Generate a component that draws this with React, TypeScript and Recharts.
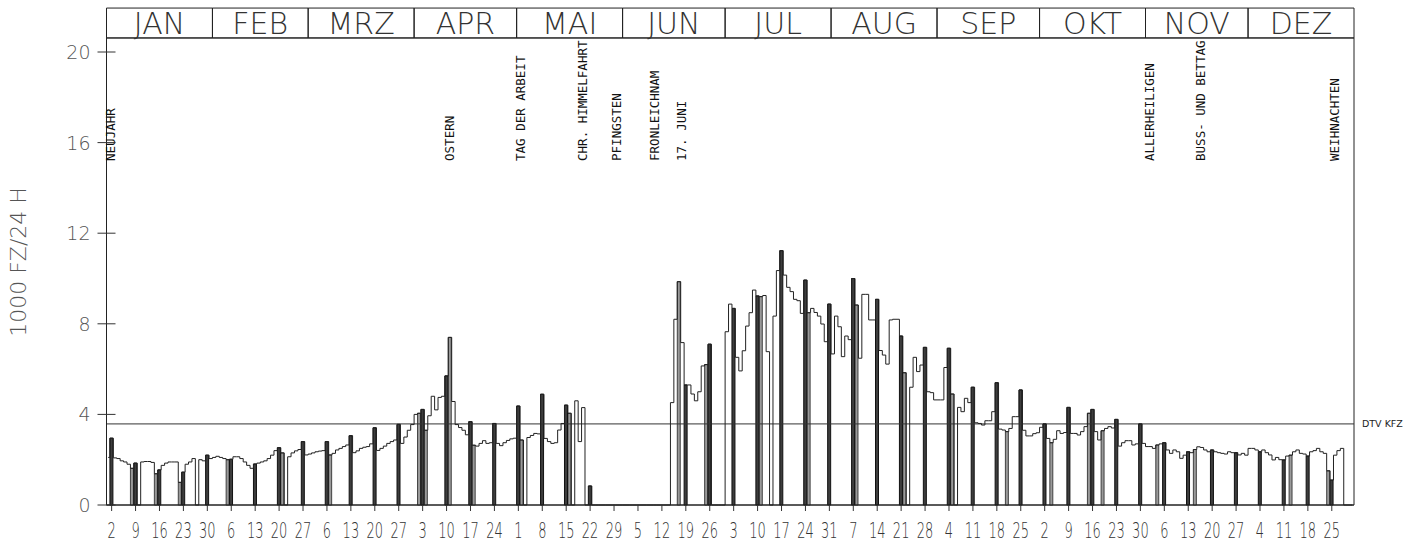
import React from 'react';
import { ComposedChart, Bar, Line, XAxis, YAxis, ReferenceLine, ReferenceArea, ReferenceDot } from 'recharts';

// daily traffic, 1000 vehicles / 24 h (1977, Jan 1 = Saturday)
const monthNames = ['JAN', 'FEB', 'MRZ', 'APR', 'MAI', 'JUN', 'JUL', 'AUG', 'SEP', 'OKT', 'NOV', 'DEZ'];

const jan = [2.1, 2.95, 2.08, 2.05, 1.95, 1.9, 1.8, 1.62, 1.85, 0, 1.9, 1.92, 1.92, 1.88, 1.38, 1.55, 1.75, 1.85, 1.9, 1.9, 1.9, 1.0, 1.45, 1.8, 1.9, 2.05, 0, 2.0, 1.95, 2.2, 2.05];
const feb = [2.1, 2.15, 2.1, 2.05, 2.0, 2.02, 2.13, 2.13, 2.05, 1.9, 1.75, 1.62, 1.81, 1.85, 1.9, 1.95, 2.05, 2.2, 2.4, 2.53, 2.3, 0, 2.13, 2.3, 2.39, 2.45, 2.8, 2.21];
const mar = [2.25, 2.3, 2.35, 2.38, 2.4, 2.8, 2.21, 2.28, 2.43, 2.5, 2.58, 2.65, 3.06, 2.31, 2.39, 2.5, 2.55, 2.58, 2.7, 3.41, 2.41, 2.5, 2.6, 2.72, 2.8, 2.87, 3.56, 2.72, 3.0, 3.3, 3.55];
const apr = [4.0, 4.05, 4.22, 3.3, 3.94, 4.8, 4.2, 4.75, 4.8, 5.7, 7.4, 4.57, 3.55, 3.42, 3.3, 3.1, 3.68, 2.64, 2.6, 2.72, 2.84, 2.72, 2.75, 3.6, 2.72, 2.62, 2.75, 2.85, 2.92, 2.95];
const may = [4.37, 2.87, 0, 2.98, 3.07, 3.16, 3.14, 4.89, 2.94, 2.8, 2.72, 2.75, 3.31, 3.6, 4.41, 4.05, 0, 4.6, 2.8, 4.3, 0, 0.84, 0, 0, 0, 0, 0, 0, 0, 0, 0];
const jun = [0, 0, 0, 0, 0, 0, 0, 0, 0, 0, 0, 0, 0, 0, 4.52, 8.2, 9.86, 7.17, 5.3, 5.3, 4.9, 4.6, 5.0, 6.14, 6.2, 7.1, 0, 0, 0, 0];
const jul = [7.65, 8.87, 8.68, 6.52, 5.92, 6.81, 7.9, 8.49, 9.49, 9.23, 9.2, 9.25, 6.77, 0, 8.34, 10.35, 11.23, 10.15, 9.61, 9.42, 9.08, 9.02, 8.46, 9.93, 8.49, 8.68, 8.5, 8.34, 7.99, 7.21, 8.87];
const aug = [6.67, 8.34, 7.87, 6.55, 7.46, 7.3, 10.0, 8.83, 6.48, 9.3, 9.3, 8.17, 8.17, 9.08, 6.82, 6.62, 6.22, 8.17, 8.2, 8.2, 7.46, 5.84, 0, 5.2, 6.52, 5.89, 6.18, 6.96, 5.0, 4.96, 4.64];
const sep = [4.64, 4.64, 6.07, 6.92, 4.9, 0, 4.31, 4.12, 4.71, 4.52, 5.2, 3.63, 3.6, 3.53, 3.72, 3.72, 4.12, 5.4, 3.35, 3.31, 3.24, 3.38, 3.9, 3.9, 5.08, 3.3, 3.05, 3.05, 3.15, 3.19];
const oct = [3.43, 3.58, 2.94, 2.75, 2.9, 3.28, 3.16, 3.2, 4.31, 3.16, 3.16, 3.09, 3.24, 3.46, 4.05, 4.22, 3.24, 2.87, 3.28, 3.38, 3.46, 3.4, 3.78, 2.6, 2.75, 2.84, 2.84, 2.65, 2.7, 3.58, 2.72];
const nov = [2.58, 2.58, 2.5, 2.65, 2.7, 2.75, 2.43, 2.28, 2.43, 2.35, 2.06, 2.2, 2.35, 2.31, 2.45, 2.57, 2.54, 2.43, 2.35, 2.43, 2.35, 2.31, 2.28, 2.25, 2.35, 2.31, 2.31, 2.21, 2.28, 2.2];
const dec = [2.5, 2.5, 2.43, 2.35, 2.43, 2.31, 2.21, 1.99, 2.1, 2.0, 1.99, 2.16, 2.2, 2.35, 2.43, 2.28, 2.25, 2.16, 2.35, 2.4, 2.5, 2.35, 2.28, 1.51, 1.1, 2.2, 2.4, 2.5, 0, 0, 0];

// day-of-month under each Sunday tick
const sundayLabels = ['2', '9', '16', '23', '30', '6', '13', '20', '27', '6', '13', '20', '27', '3', '10', '17', '24', '1', '8', '15', '22', '29', '5', '12', '19', '26', '3', '10', '17', '24', '31', '7', '14', '21', '28', '4', '11', '18', '25', '2', '9', '16', '23', '30', '6', '13', '20', '27', '4', '11', '18', '25'];

// hatched (grey) bars [month, day]
const greyDays = [[1, 8], [1, 15], [1, 22], [2, 5], [2, 21], [3, 7], [4, 2], [4, 4], [4, 11], [4, 18], [5, 2], [5, 16], [6, 17], [6, 25], [7, 11], [7, 25], [8, 8], [8, 22], [9, 5], [9, 21], [10, 4], [10, 15], [10, 19], [11, 4], [11, 15], [12, 13], [12, 24]];

// holidays [month, day, text]
const holidays: [number, number, string][] = [
  [1, 1, 'NEUJAHR'],
  [4, 10, 'OSTERN'],
  [5, 1, 'TAG DER ARBEIT'],
  [5, 19, 'CHR. HIMMELFAHRT'],
  [5, 29, 'PFINGSTEN'],
  [6, 9, 'FRONLEICHNAM'],
  [6, 17, '17. JUNI'],
  [11, 1, 'ALLERHEILIGEN'],
  [11, 16, 'BUSS- UND BETTAG'],
  [12, 25, 'WEIHNACHTEN'],
];

const dtvKfz = 3.58;
const yTicks = [0, 4, 8, 12, 16, 20];

const months = [jan, feb, mar, apr, may, jun, jul, aug, sep, oct, nov, dec];
const monthStart: number[] = [];
let acc = 0;
months.forEach((m) => { monthStart.push(acc); acc += m.length; });
const dayIndex = (m: number, d: number) => monthStart[m - 1] + d - 1;
const greySet = new Set(greyDays.map(([m, d]) => dayIndex(m, d)));

const data = months.flat().map((v, i) => {
  const sunday = i % 7 === 1;
  return {
    i,
    v,
    sun: sunday && v > 0 ? v : null,
    grey: !sunday && greySet.has(i) && v > 0 ? v : null,
  };
});

const sundayTicks = sundayLabels.map((_, k) => 1 + 7 * k);
const tickLabel = new Map(sundayTicks.map((t, k) => [t, sundayLabels[k]]));

// header band & label baseline (in y units, above / inside plot)
const HEAD_LOW = 20.62;
const HEAD_HIGH = 21.94;
const LABEL_BASE = 15.19;

const FONT = "'DejaVu Sans', sans-serif";

const XTick = ({ x, y, payload }: any) => (
  <g transform={`translate(${x},${y})`}>
    <text transform="scale(0.62,1)" textAnchor="middle" dy={25} fontSize={21} fill="#333" fontFamily={FONT} fontWeight={200}>
      {tickLabel.get(payload.value)}
    </text>
  </g>
);

const YTick = ({ x, y, payload }: any) => (
  <g>
    <line x1={x - 9} x2={x + 9} y1={y} y2={y} stroke="#333" strokeWidth={1} />
    <text x={x - 16} y={y} dy={7} textAnchor="end" fontSize={19} fill="#555" fontFamily={FONT} fontWeight={200}>
      {payload.value}
    </text>
  </g>
);

const holidayShape = (text: string) => (p: any) => (
  <text
    transform={`translate(${p.cx + 7},${p.cy}) rotate(-90)`}
    fontSize={12.5}
    fill="#111"
    fontFamily="'DejaVu Sans Mono', monospace"
  >
    {text}
  </text>
);

export default function App() {
  return (
    <div style={{ position: 'absolute', left: 0, top: 0, width: 1427, height: 544, background: '#fff' }}>
      <ComposedChart
        width={1427}
        height={544}
        data={data}
        margin={{ top: 52, right: 73, left: 0, bottom: 0 }}
        barCategoryGap={0}
        barGap={0}
      >
        <XAxis
          dataKey="i"
          type="category"
          ticks={sundayTicks}
          interval={0}
          height={39}
          tickSize={6}
          tickMargin={2}
          axisLine={{ stroke: '#222' }}
          tickLine={{ stroke: '#333' }}
          tick={<XTick />}
        />
        <YAxis
          type="number"
          domain={[0, 20]}
          ticks={yTicks}
          width={106.5}
          tickSize={0}
          tickMargin={0}
          tickLine={false}
          axisLine={{ stroke: '#222' }}
          tick={<YTick />}
        />

        {/* frame round the plot */}
        <ReferenceArea x1={0} x2={364} y1={0} y2={HEAD_LOW} fill="none" stroke="#222" strokeWidth={1} ifOverflow="visible" />

        {/* month header */}
        {months.map((m, k) => (
          <ReferenceArea
            key={monthNames[k]}
            x1={monthStart[k]}
            x2={monthStart[k] + m.length - 1}
            y1={HEAD_LOW}
            y2={HEAD_HIGH}
            fill="none"
            stroke="#222"
            strokeWidth={1}
            ifOverflow="visible"
            label={{ value: monthNames[k], position: 'center', fontSize: 30, fill: '#333', fontFamily: FONT, fontWeight: 200 }}
          />
        ))}

        <ReferenceLine
          y={dtvKfz}
          stroke="#333"
          strokeWidth={1}
          label={{ value: 'DTV KFZ', position: 'right', offset: 8, fontSize: 9.5, fill: '#222', fontFamily: FONT }}
        />

        {holidays.map(([m, d, text]) => (
          <ReferenceDot
            key={text}
            x={dayIndex(m, d)}
            y={LABEL_BASE}
            r={0}
            shape={holidayShape(text)}
          />
        ))}

        <Bar dataKey="grey" stackId="a" fill="#9a9a9a" stroke="#222" strokeWidth={0.8} isAnimationActive={false} />
        <Bar dataKey="sun" stackId="a" fill="#3d3d3d" stroke="#111" strokeWidth={1} isAnimationActive={false} />
        <Line dataKey="v" type="step" stroke="#222" strokeWidth={1} dot={false} isAnimationActive={false} />
      </ComposedChart>
      <div
        style={{
          position: 'absolute',
          left: 18,
          top: 262,
          transform: 'translate(-50%, -50%) rotate(-90deg)',
          fontFamily: FONT,
          fontWeight: 200,
          fontSize: 22,
          color: '#555',
          whiteSpace: 'nowrap',
        }}
      >
        1000 FZ/24 H
      </div>
    </div>
  );
}
